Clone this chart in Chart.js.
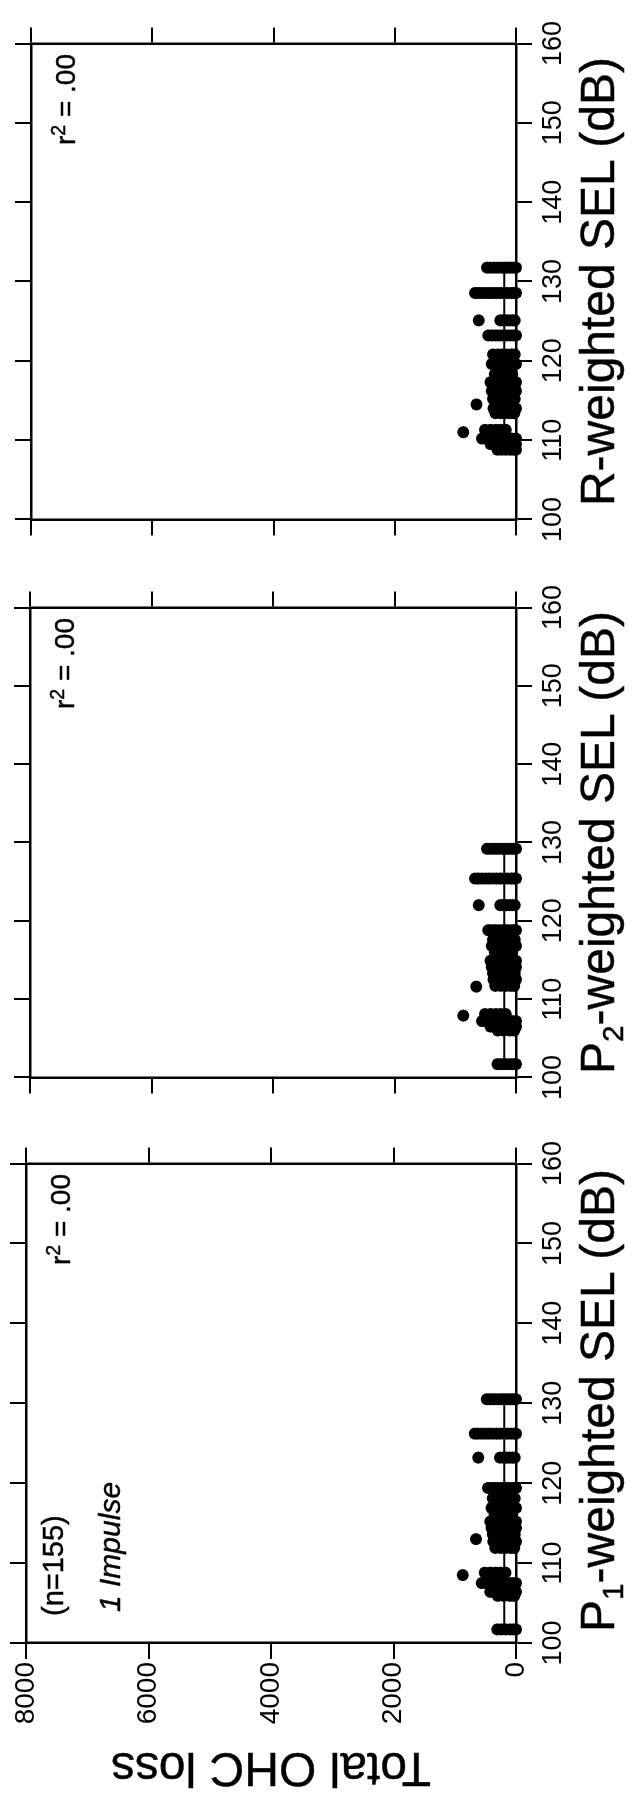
<!DOCTYPE html>
<html><head><meta charset="utf-8">
<script src="https://cdn.jsdelivr.net/npm/chart.js@4.4.0/dist/chart.umd.min.js"></script>
<style>
html,body{margin:0;padding:0;background:#fff;overflow:hidden;width:637px;height:1796px;}
#land{position:absolute;left:0;top:0;width:1796px;height:637px;transform-origin:0 0;transform:translateY(1796px) rotate(-90deg);background:#fff;}
#land canvas{position:absolute;}
.t{position:absolute;white-space:nowrap;font-family:'Liberation Sans',Arial,Helvetica,sans-serif;color:#000;-webkit-text-stroke:0.4px #000;}
</style></head><body><div id="land"></div>
<script>
// ---------------- data ----------------
const selTicks = [100, 110, 120, 130, 140, 150, 160];
const ohcTicks = [0, 2000, 4000, 6000, 8000];
// Total OHC loss of the animals, grouped by exposure level (same animals in every panel)
const groupOhc = [
  [478, 420, 360, 300, 240, 190, 140, 90, 40, 0],
  [675, 620, 560, 500, 440, 380, 320, 260, 200, 140, 80, 30, 0],
  [615, 260, 210, 160, 110, 60, 20],
  [458, 400, 340, 280, 220, 160, 100, 40, 0],
  [380, 300, 230, 150, 80, 20],
  [400, 330, 260, 180, 110, 50, 0],
  [350, 280, 210, 130, 60],
  [420, 350, 280, 210, 140, 70, 0],
  [400, 330, 260, 190, 120, 50, 0],
  [380, 300, 220, 150, 80, 20],
  [653],
  [370, 290, 210, 130, 60, 0],
  [340, 250, 170, 90, 30],
  [510, 420, 330, 250, 170],
  [870],
  [560, 490, 400, 310, 230, 150, 70, 0],
  [420, 330, 250, 160, 80, 0],
  [300, 200, 100, 30],
  [305, 240, 170, 100, 40, 0]
];
// SEL of each group under each weighting (dB)
const p1GroupSel = [130.5, 126.2, 123.2, 119.4, 118.1, 116.9, 116.1, 115.2, 114.4, 113.6, 113.0, 112.7, 111.9, 108.8, 108.5, 107.5, 106.4, 105.9, 101.7];
const p2GroupSel = [129.2, 125.4, 122.0, 118.8, 117.6, 116.8, 116.0, 114.9, 114.1, 113.3, 111.6, 112.5, 111.7, 108.1, 107.9, 107.2, 106.5, 106.0, 101.7];
const rGroupSel  = [131.75, 128.55, 125.1, 123.2, 120.8, 119.6, 118.3, 117.3, 116.2, 115.2, 114.5, 114.0, 113.4, 111.3, 111.0, 110.2, 109.5, 109.0, 108.8];
// flat regression lines (r^2 = .00)
const regOhc = [193, 193, 193];
const p1RegSel = [101.7, 130.5];
const p2RegSel = [101.7, 129.2];
const rRegSel  = [108.8, 131.75];
const rSquared = ['.00', '.00', '.00'];
const xTitles = ['P<span style="font-size:0.62em;position:relative;top:0.3em">1</span>-weighted SEL (dB)',
                 'P<span style="font-size:0.62em;position:relative;top:0.3em">2</span>-weighted SEL (dB)',
                 'R-weighted SEL (dB)'];
const yTitle = 'Total OHC loss';
const nLabel = '(n=155)';
const condLabel = '1 Impulse';

// ---------------- layout ----------------
const FONT = "'Liberation Sans', Arial, Helvetica, sans-serif";
const land = document.getElementById('land');
const panels = [
  {sel: p1GroupSel, reg: p1RegSel, L: 153, R: 638, T: 26, B: 516, leftW: 150, yLabels: true},
  {sel: p2GroupSel, reg: p2RegSel, L: 713, R: 1194, T: 30, B: 516, leftW: 22, yLabels: false},
  {sel: rGroupSel,  reg: rRegSel,  L: 1271, R: 1758, T: 31, B: 516, leftW: 22, yLabels: false}
];
const rightW = 22, topH = 22, bottomH = 60;

function gridOpts() {
  return {drawOnChartArea: false, drawTicks: true, tickLength: 16, lineWidth: 2, color: '#000'};
}
function borderOpts() { return {display: true, width: 2.5, color: '#000'}; }

panels.forEach((p, i) => {
  const cv = document.createElement('canvas');
  const w = p.leftW + (p.R - p.L) + rightW;
  const h = topH + (p.B - p.T) + bottomH;
  cv.width = w; cv.height = h;
  cv.style.width = w + 'px'; cv.style.height = h + 'px';
  cv.style.left = (p.L - p.leftW) + 'px';
  cv.style.top = (p.T - topH) + 'px';
  land.appendChild(cv);

  const pts = [];
  groupOhc.forEach((vals, g) => vals.forEach(v => pts.push({x: p.sel[g], y: v})));
  const line = p.reg.map(s => ({x: s, y: regOhc[i]}));
  const selTickFn = s => { s.ticks = selTicks.map(v => ({value: v})); };
  const ohcTickFn = s => { s.ticks = ohcTicks.map(v => ({value: v})); };

  new Chart(cv, {
    type: 'scatter',
    data: {datasets: [
      {type: 'line', data: line, borderColor: '#000', borderWidth: 2, pointRadius: 0, fill: false, clip: false, xAxisID: 'x', yAxisID: 'y'},
      {data: pts, pointRadius: 6, pointHoverRadius: 6, pointBackgroundColor: '#000', pointBorderColor: '#000', pointBorderWidth: 0, clip: false, xAxisID: 'x', yAxisID: 'y'}
    ]},
    options: {
      responsive: false, animation: false, devicePixelRatio: 1,
      events: [],
      layout: {padding: 0, autoPadding: false},
      plugins: {legend: {display: false}, tooltip: {enabled: false}},
      scales: {
        x: {type: 'linear', position: 'bottom', min: 100, max: 160, afterBuildTicks: selTickFn,
            grid: gridOpts(), border: borderOpts(),
            ticks: {color: '#000', font: {family: FONT, size: 27}, padding: 5, maxRotation: 0, minRotation: 0, autoSkip: false,
                    callback: v => String(v)},
            afterFit: s => { s.height = bottomH; }},
        x2: {type: 'linear', position: 'top', min: 100, max: 160, afterBuildTicks: selTickFn,
            grid: gridOpts(), border: borderOpts(), ticks: {display: false},
            afterFit: s => { s.height = topH; }},
        y: {type: 'linear', position: 'left', min: 0, max: 8000, afterBuildTicks: ohcTickFn,
            grid: gridOpts(), border: borderOpts(),
            ticks: {display: p.yLabels, color: '#000', font: {family: FONT, size: 28}, padding: 3,
                    callback: v => String(v)},
            afterFit: s => { s.width = p.leftW; }},
        y2: {type: 'linear', position: 'right', min: 0, max: 8000, afterBuildTicks: ohcTickFn,
            grid: gridOpts(), border: borderOpts(), ticks: {display: false},
            afterFit: s => { s.width = rightW; }}
      }
    }
  });

  // axis title
  addText(xTitles[i], 48, {baseline: 615, center: (p.L + p.R) / 2});
  // r^2
  addText('r<span style="font-size:0.7em;position:relative;top:-0.55em">2</span> = ' + rSquared[i], 28, {baseline: p.T + 45, right: p.R - 16});
});

addText(nLabel, 29, {baseline: 64, left: 180});
addText(condLabel, 30, {baseline: 120, left: 184, italic: true});

// rotated y title
(function () {
  const fs = 48;
  const d = document.createElement('div');
  d.className = 't';
  d.textContent = yTitle;
  d.style.fontSize = fs + 'px';
  d.style.lineHeight = fs + 'px';
  d.style.left = '27.4px';
  d.style.top = '271px';
  d.style.transform = 'translate(-50%,-50%) rotate(-90deg)';
  land.appendChild(d);
})();

function addText(html, fs, o) {
  const d = document.createElement('div');
  d.className = 't';
  d.innerHTML = html;
  d.style.fontSize = fs + 'px';
  d.style.lineHeight = fs + 'px';
  if (o.italic) d.style.fontStyle = 'italic';
  d.style.top = (o.baseline - 0.8465 * fs) + 'px';
  if (o.center !== undefined) { d.style.left = o.center + 'px'; d.style.transform = 'translateX(-50%)'; }
  else if (o.right !== undefined) { d.style.right = (1796 - o.right) + 'px'; }
  else { d.style.left = o.left + 'px'; }
  land.appendChild(d);
}
</script></body></html>
